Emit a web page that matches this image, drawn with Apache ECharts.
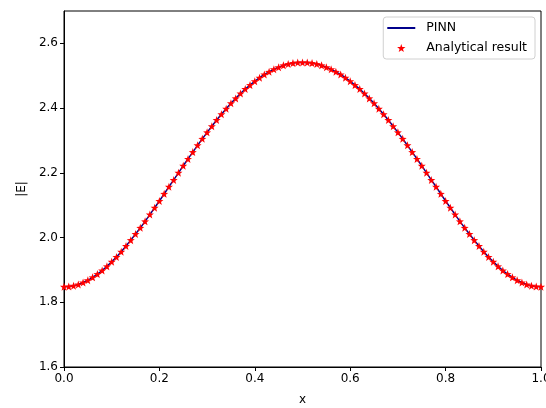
<!DOCTYPE html>
<html>
<head>
<meta charset="utf-8">
<script src="https://cdn.jsdelivr.net/npm/echarts@6/dist/echarts.min.js"></script>
<style>
html,body{margin:0;padding:0;background:#fff;}
#chart{width:546px;height:408px;}
</style>
</head>
<body>
<div id="chart"></div>
<script>
var xValues = [0.00,0.01,0.02,0.03,0.04,0.05,0.06,0.07,0.08,0.09,
  0.10,0.11,0.12,0.13,0.14,0.15,0.16,0.17,0.18,0.19,
  0.20,0.21,0.22,0.23,0.24,0.25,0.26,0.27,0.28,0.29,
  0.30,0.31,0.32,0.33,0.34,0.35,0.36,0.37,0.38,0.39,
  0.40,0.41,0.42,0.43,0.44,0.45,0.46,0.47,0.48,0.49,
  0.50,0.51,0.52,0.53,0.54,0.55,0.56,0.57,0.58,0.59,
  0.60,0.61,0.62,0.63,0.64,0.65,0.66,0.67,0.68,0.69,
  0.70,0.71,0.72,0.73,0.74,0.75,0.76,0.77,0.78,0.79,
  0.80,0.81,0.82,0.83,0.84,0.85,0.86,0.87,0.88,0.89,
  0.90,0.91,0.92,0.93,0.94,0.95,0.96,0.97,0.98,0.99,1.00];

var pinnValues = [1.848,1.849,1.851,1.855,1.861,1.868,1.877,1.887,1.898,1.911,
  1.925,1.940,1.956,1.974,1.992,2.011,2.030,2.050,2.071,2.092,
  2.113,2.135,2.157,2.178,2.200,2.222,2.243,2.264,2.285,2.305,
  2.325,2.344,2.363,2.381,2.398,2.415,2.430,2.445,2.459,2.471,
  2.483,2.494,2.504,2.512,2.520,2.526,2.532,2.536,2.539,2.541,
  2.541,2.541,2.539,2.536,2.532,2.526,2.520,2.512,2.504,2.494,
  2.483,2.471,2.459,2.445,2.430,2.415,2.398,2.381,2.363,2.344,
  2.325,2.305,2.285,2.264,2.243,2.222,2.200,2.178,2.157,2.135,
  2.113,2.092,2.071,2.050,2.030,2.011,1.992,1.974,1.956,1.940,
  1.925,1.911,1.898,1.887,1.877,1.868,1.861,1.855,1.851,1.849,1.848];

var analyticalValues = [1.848,1.849,1.851,1.855,1.861,1.868,1.877,1.887,1.898,1.911,
  1.925,1.940,1.956,1.974,1.992,2.011,2.030,2.050,2.071,2.092,
  2.113,2.135,2.157,2.178,2.200,2.222,2.243,2.264,2.285,2.305,
  2.325,2.344,2.363,2.381,2.398,2.415,2.430,2.445,2.459,2.471,
  2.483,2.494,2.504,2.512,2.520,2.526,2.532,2.536,2.539,2.541,
  2.541,2.541,2.539,2.536,2.532,2.526,2.520,2.512,2.504,2.494,
  2.483,2.471,2.459,2.445,2.430,2.415,2.398,2.381,2.363,2.344,
  2.325,2.305,2.285,2.264,2.243,2.222,2.200,2.178,2.157,2.135,
  2.113,2.092,2.071,2.050,2.030,2.011,1.992,1.974,1.956,1.940,
  1.925,1.911,1.898,1.887,1.877,1.868,1.861,1.855,1.851,1.849,1.848];

var xTicks = [0.0,0.2,0.4,0.6,0.8,1.0];
var yTicks = [1.6,1.8,2.0,2.2,2.4,2.6];

var starPath = 'path://M0,-10L2.35,-3.24L9.51,-3.09L3.8,1.24L5.88,8.09L0,4.2L-5.88,8.09L-3.8,1.24L-9.51,-3.09L-2.35,-3.24Z';

function pairs(xs, ys){ return xs.map(function(x,i){ return [x, ys[i]]; }); }

var font = 'DejaVu Sans';
var chart = echarts.init(document.getElementById('chart'), null, {renderer:'canvas'});
chart.setOption({
  animation:false,
  backgroundColor:'#fff',
  textStyle:{fontFamily:font},
  grid:{left:64,right:5,top:11,bottom:41,containLabel:false,outerBoundsMode:'none',
        show:true,borderColor:'#000',borderWidth:1,backgroundColor:'transparent'},
  legend:{
    orient:'vertical', right:11, top:17,
    padding:[4,8,4,3], itemGap:6, itemWidth:28, itemHeight:8,
    borderColor:'#d0d0d0', borderWidth:1, borderRadius:3,
    textStyle:{fontFamily:font,fontSize:12.5,color:'#000',lineHeight:14,padding:[0,0,0,6]},
    data:[{name:'PINN', itemStyle:{opacity:0}},{name:'Analytical result', icon:starPath}]
  },
  xAxis:{
    type:'value', min:0, max:1,
    name:'x', nameLocation:'middle', nameGap:27,
    nameTextStyle:{fontFamily:font,fontSize:12,color:'#000'},
    axisLine:{show:true,lineStyle:{color:'#000',width:1}},
    axisTick:{show:true,length:4,inside:false,customValues:xTicks,lineStyle:{color:'#000'}},
    axisLabel:{customValues:xTicks,fontFamily:font,fontSize:12,color:'#000',margin:6,
      formatter:function(v){return v.toFixed(1);}},
    splitLine:{show:false}
  },
  yAxis:{
    type:'value', min:1.6, max:2.7,
    name:'|E|', nameLocation:'middle', nameGap:36,
    nameTextStyle:{fontFamily:font,fontSize:12,color:'#000'},
    axisLine:{show:true,lineStyle:{color:'#000',width:1}},
    axisTick:{show:true,length:4,inside:false,customValues:yTicks,lineStyle:{color:'#000'}},
    axisLabel:{customValues:yTicks,fontFamily:font,fontSize:12,color:'#000',margin:6,
      formatter:function(v){return v.toFixed(1);}},
    splitLine:{show:false}
  },
  series:[
    {name:'PINN', type:'line', data:pairs(xValues,pinnValues), symbol:'none', showSymbol:false,
     lineStyle:{color:'#00008b',width:1.5}, itemStyle:{color:'#00008b'}, z:2},
    {name:'Analytical result', type:'scatter', data:pairs(xValues,analyticalValues),
     symbol:starPath, symbolSize:8, itemStyle:{color:'#ff0000',opacity:1}, z:3}
  ]
});
</script>
</body>
</html>
